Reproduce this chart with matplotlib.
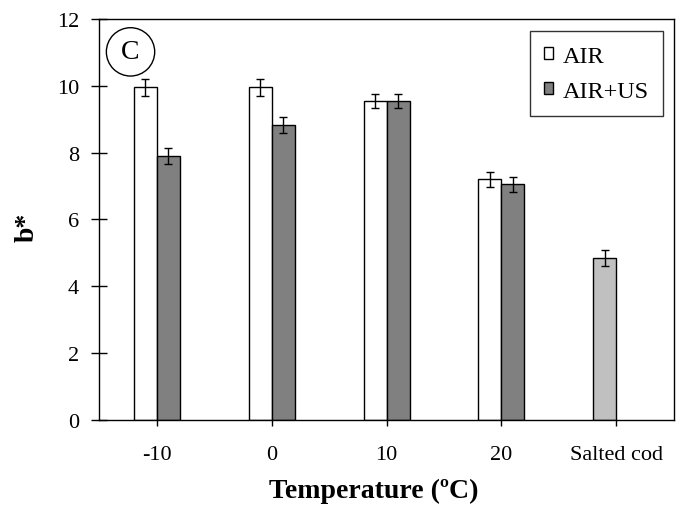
import numpy as np
import matplotlib.pyplot as plt

plt.rcParams['font.family'] = ['Liberation Serif', 'DejaVu Serif']

categories = ['-10', '0', '10', '20', 'Salted cod']
air = [9.95, 9.95, 9.55, 7.2]
air_err = [0.25, 0.25, 0.2, 0.22]
air_us = [7.9, 8.82, 9.55, 7.05]
air_us_err = [0.25, 0.24, 0.22, 0.22]
cod = [4.85]
cod_err = [0.23]

fig = plt.figure(figsize=(6.81, 5.06), dpi=100)
ax = fig.add_axes([0.1454, 0.168, 0.8443, 0.7925])

x = np.arange(len(categories))
w = 0.2
ek = dict(ecolor='black', elinewidth=1, capsize=3.2, capthick=1)

ax.bar(x[:4] - w / 2, air, w, yerr=air_err, color='white', edgecolor='black',
       linewidth=1, label='AIR', error_kw=ek)
ax.bar(x[:4] + w / 2, air_us, w, yerr=air_us_err, color='#808080', edgecolor='black',
       linewidth=1, label='AIR+US', error_kw=ek)
ax.bar(x[4:] - w / 2, cod, w, yerr=cod_err, color='#c0c0c0', edgecolor='black',
       linewidth=1, error_kw=ek)

ax.set_xlim(-0.5, len(categories) - 0.5)
ax.set_ylim(0, 12)
ax.set_yticks(range(0, 13, 2))
ax.set_xticks(x)
ax.set_xticklabels(categories)
ax.tick_params(axis='y', direction='inout', length=11, width=1, labelsize=16, pad=9)
ax.tick_params(axis='x', direction='out', length=4.5, width=1, labelsize=16, pad=13.5)
for s in ax.spines.values():
    s.set_linewidth(1)

ax.set_ylabel('b*', fontsize=20, fontweight='bold', labelpad=12)
ax.yaxis.label.set_y(0.484)
ax.set_xlabel('Temperature (ºC)', fontsize=20, fontweight='bold', labelpad=10)
ax.xaxis.label.set_x(0.477)

ax.text(0.0548, 0.918, 'C', transform=ax.transAxes, ha='center', va='center', fontsize=20,
        bbox=dict(boxstyle='circle,pad=0.42', fc='white', ec='black', lw=1))

leg = ax.legend(loc='upper right', bbox_to_anchor=(0.981, 0.970), fontsize=17.5, frameon=True,
                fancybox=False, edgecolor='black', handlelength=0.37, handleheight=0.37,
                handletextpad=0.37, labelspacing=0.58, borderpad=0.6, borderaxespad=0)
leg.get_frame().set_linewidth(1)

fig.savefig('out.png', dpi=100)
